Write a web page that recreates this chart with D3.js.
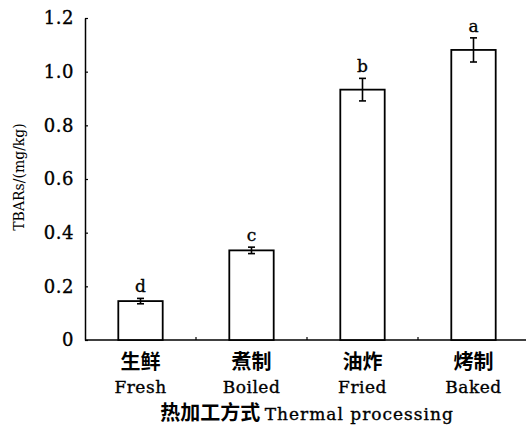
<!DOCTYPE html>
<html>
<head>
  <meta charset="utf-8">
  <title>TBARs</title>
  <style>
    body { margin: 0; background: #fff; }
    text { font-family: "DejaVu Serif", "Noto Sans CJK SC", serif; fill: #000; }
    .lat { stroke: #000; stroke-width: 0.35px; }
    .cn { font-family: "Noto Sans CJK SC", sans-serif; stroke: none; }
  </style>
  <script src="https://d3js.org/d3.v7.min.js"></script>
</head>
<body>
  <script>
    // 热加工方式对 TBARs 的影响
    var catCn = ["生鲜", "煮制", "油炸", "烤制"];
    var catEn = ["Fresh", "Boiled", "Fried", "Baked"];
    var values = [0.145, 0.334, 0.933, 1.081];
    var errors = [0.010, 0.012, 0.042, 0.045];
    var letters = ["d", "c", "b", "a"];
    var yTicks = [0, 0.2, 0.4, 0.6, 0.8, 1.0, 1.2];

    var width = 526, height = 431;
    var mLeft = 85, mRight = 529, mTop = 18, mBottom = 340;

    var svg = d3.select("body").append("svg")
      .attr("width", width)
      .attr("height", height);

    var x = d3.scaleBand()
      .domain(catEn)
      .range([mLeft, mRight])
      .paddingInner(0.6)
      .paddingOuter(0.3);

    var y = d3.scaleLinear()
      .domain([0, 1.2])
      .range([mBottom, mTop]);

    // y 轴
    var yAxis = svg.append("g")
      .attr("transform", "translate(" + mLeft + ",0)")
      .call(d3.axisLeft(y).tickValues(yTicks).tickSizeInner(-3).tickSizeOuter(0)
        .tickPadding(11)
        .tickFormat(d => d === 0 ? "0" : d3.format(".1f")(d)));
    yAxis.select(".domain").attr("stroke", "#000").attr("stroke-width", 1.5);
    yAxis.selectAll(".tick line").attr("stroke", "#000").attr("stroke-width", 1.2);
    yAxis.selectAll(".tick text").attr("class", "lat").style("font-size", "18px")
      .attr("font-family", "DejaVu Serif").attr("letter-spacing", "0.5px");

    // x 轴
    svg.append("line")
      .attr("x1", mLeft).attr("x2", mRight)
      .attr("y1", mBottom).attr("y2", mBottom)
      .attr("stroke", "#000").attr("stroke-width", 1.5);

    var step = x.step();
    svg.selectAll(".xtick")
      .data(catEn)
      .enter().append("line")
      .attr("x1", d => x(d) + x.bandwidth() / 2 + step / 2)
      .attr("x2", d => x(d) + x.bandwidth() / 2 + step / 2)
      .attr("y1", mBottom).attr("y2", mBottom - 3)
      .attr("stroke", "#000").attr("stroke-width", 1.2);

    // 柱子
    svg.selectAll(".bar")
      .data(values)
      .enter().append("rect")
      .attr("x", (d, i) => x(catEn[i]))
      .attr("y", d => y(d))
      .attr("width", x.bandwidth())
      .attr("height", d => y(0) - y(d))
      .attr("fill", "#fff")
      .attr("stroke", "#000")
      .attr("stroke-width", 1.8);

    // 误差线
    var eb = svg.selectAll(".err")
      .data(values)
      .enter().append("g")
      .attr("transform", (d, i) => "translate(" + (x(catEn[i]) + x.bandwidth() / 2) + ",0)");
    eb.append("line")
      .attr("y1", (d, i) => y(d - errors[i]))
      .attr("y2", (d, i) => y(d + errors[i]))
      .attr("stroke", "#000").attr("stroke-width", 1.6);
    eb.append("line")
      .attr("x1", -3.5).attr("x2", 3.5)
      .attr("y1", (d, i) => y(d + errors[i])).attr("y2", (d, i) => y(d + errors[i]))
      .attr("stroke", "#000").attr("stroke-width", 1.6);
    eb.append("line")
      .attr("x1", -3.5).attr("x2", 3.5)
      .attr("y1", (d, i) => y(d - errors[i])).attr("y2", (d, i) => y(d - errors[i]))
      .attr("stroke", "#000").attr("stroke-width", 1.6);
    eb.append("text")
      .attr("y", (d, i) => y(d + errors[i]) - 6)
      .attr("text-anchor", "middle")
      .attr("class", "lat")
      .style("font-size", "17px")
      .text((d, i) => letters[i]);

    // 类别标签
    svg.selectAll(".lab-cn")
      .data(catCn)
      .enter().append("text")
      .attr("class", "cn")
      .attr("x", (d, i) => x(catEn[i]) + x.bandwidth() / 2)
      .attr("y", 369)
      .attr("text-anchor", "middle")
      .attr("font-weight", "bold")
      .style("font-size", "20px")
      .text(d => d);

    svg.selectAll(".lab-en")
      .data(catEn)
      .enter().append("text")
      .attr("class", "lat")
      .attr("x", d => x(d) + x.bandwidth() / 2)
      .attr("y", 393)
      .attr("text-anchor", "middle")
      .style("font-size", "17px")
      .attr("letter-spacing", "0.5px")
      .text(d => d);

    // 轴标题
    var xt = svg.append("text")
      .attr("x", (mLeft + mRight) / 2)
      .attr("y", 420)
      .attr("text-anchor", "middle")
      .style("font-size", "17px");
    xt.append("tspan").attr("class", "cn").attr("font-weight", "bold")
      .style("font-size", "20px").text("热加工方式 ");
    xt.append("tspan").attr("class", "lat").attr("letter-spacing", "1px").text("Thermal processing");

    svg.append("text")
      .attr("transform", "translate(24," + 177 + ") rotate(-90)")
      .attr("text-anchor", "middle")
      .style("font-size", "14px")
      .text("TBARs/(mg/kg)");
  </script>
</body>
</html>
